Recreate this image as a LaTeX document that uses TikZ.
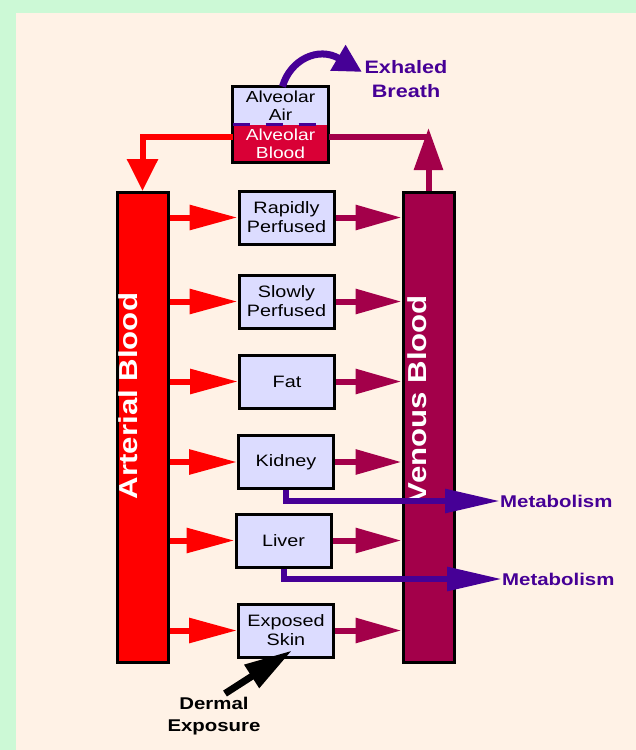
\documentclass[tikz,border=0pt]{standalone}
\usepackage{fontspec}
\setmainfont[FakeStretch=1.2]{Liberation Sans}
\usetikzlibrary{arrows.meta,positioning}

\definecolor{panelgreen}{RGB}{204,249,214}
\definecolor{panelcream}{RGB}{255,242,230}
\definecolor{organfill}{RGB}{220,220,255}
\definecolor{artred}{RGB}{255,0,0}
\definecolor{venred}{RGB}{163,0,74}
\definecolor{alvred}{RGB}{217,0,54}
\definecolor{metpurple}{RGB}{70,0,150}

\begin{document}
\begin{tikzpicture}[x=1pt,y=-1pt,
  organ/.style={draw,line width=3pt,fill=organfill,minimum width=95pt,minimum height=53pt,
    align=center,inner sep=0pt,font=\fontsize{16.5}{19}\selectfont},
  alvpart/.style={minimum width=96pt,minimum height=38pt,inner sep=0pt,outer sep=0pt,
    align=center,font=\fontsize{16}{18}\selectfont},
  bar/.style={draw,line width=3pt,minimum width=51pt,minimum height=470pt},
  barlabel/.style={rotate=90,text=white,font=\bfseries\fontsize{26}{30}\selectfont},
  artflow/.style={color=artred,line width=6pt,-{Triangle[length=48pt,width=24pt]}},
  venflow/.style={color=venred,line width=6pt,-{Triangle[length=46pt,width=24pt]}},
  metflow/.style={color=metpurple,line width=6pt,-{Triangle[length=55pt,width=23pt]}},
  outlabel/.style={text=metpurple,align=center,inner sep=0pt,font=\bfseries\fontsize{17}{20}\selectfont},
]
\useasboundingbox (0,0) rectangle (636,750);
\fill[panelgreen] (0,0) rectangle (636,750);
\fill[panelcream] (16,13) rectangle (636,750);

% blood pools
\node[bar,fill=artred] (art) at (142.5,427.5) {};
\node[bar,fill=venred] (ven) at (428.5,427.5) {};
\node[barlabel] (artlab) at (128,396) {Arterial Blood};
\node[barlabel] (venlab) at (417.5,399) {Venous Blood};

% lung
\node[alvpart,fill=organfill] (air) at (280.5,105.5) {Alveolar\\Air};
\node[alvpart,fill=alvred,text=white,below=0pt of air] (blood) {Alveolar\\Blood};
\draw[line width=3pt] (air.north west) rectangle (blood.south east);
\draw[metpurple,line width=3pt,dash pattern=on 17pt off 16pt] (air.south west) -- (air.south east);

% tissues
\node[organ] (rp)   at (286.5,217.5) {Rapidly\\Perfused};
\node[organ] (sp)   at (286.5,301.5) {Slowly\\Perfused};
\node[organ] (fat)  at (287,381.5)   {Fat};
\node[organ] (kid)  at (286,462)     {Kidney};
\node[organ] (liv)  at (283.5,540.5) {Liver};
\node[organ] (skin) at (286,630.5)   {Exposed\\Skin};

\node[outlabel,font=\bfseries\fontsize{18}{24}\selectfont] (exh) at (406,79.5) {Exhaled\\Breath};
\node[outlabel,anchor=west] (met1) at (500,501) {Metabolism};
\node[outlabel,anchor=west] (met2) at (502,579) {Metabolism};
\node[align=center,font=\bfseries\fontsize{17}{22}\selectfont] (derm) at (214,716) {Dermal\\Exposure};
\coordinate (exhtip) at (362,72);
\coordinate (ventop) at (428.5,128);

% lung loop
\draw[artred,line width=6pt,-{Triangle[length=32pt,width=30pt]}]
  ([yshift=7pt]blood.west) -| (art.north);
\draw[venred,line width=6pt] ([yshift=7pt]blood.east) -- ([yshift=7pt]blood.east -| ven.north);
\draw[venred,line width=6pt,-{Triangle[length=42pt,width=28pt]}] (ven.north) -- (ventop);
\draw[metpurple,line width=7pt,-{Triangle[length=28pt,width=28pt]}]
  ([xshift=2pt]air.north) .. controls (290,60) and (318,46) .. (exhtip);

\path
(art.east |- rp)   edge[artflow] (rp)
(art.east |- sp)   edge[artflow] (sp)
(art.east |- fat)  edge[artflow] (fat)
(art.east |- kid)  edge[artflow] (kid)
(art.east |- liv)  edge[artflow] (liv)
(art.east |- skin) edge[artflow] (skin)
(rp)   edge[venflow] (ven.west |- rp)
(sp)   edge[venflow] (ven.west |- sp)
(fat)  edge[venflow] (ven.west |- fat)
(kid)  edge[venflow] (ven.west |- kid)
(liv)  edge[venflow] (ven.west |- liv)
(skin) edge[venflow] (ven.west |- skin)
;

% clearance and uptake
\draw[metflow] (kid.south) |- (met1.west);
\draw[metflow] (liv.south) |- (met2.west);
\draw[line width=7pt,-{Triangle[length=48pt,width=26pt]}]
  ([xshift=11pt]derm.north) -- ([xshift=6pt,yshift=8pt]skin.south);
\end{tikzpicture}
\end{document}
